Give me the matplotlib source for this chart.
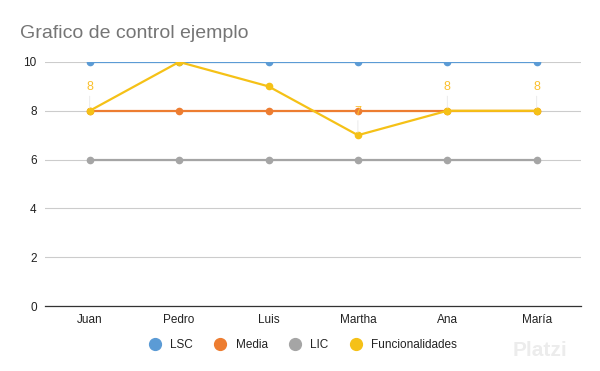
import matplotlib.pyplot as plt

plt.rcParams["font.family"] = ["Liberation Sans", "DejaVu Sans"]

nombres = ["Juan", "Pedro", "Luis", "Martha", "Ana", "María"]
lsc = [10, 10, 10, 10, 10, 10]
media = [8, 8, 8, 8, 8, 8]
lic = [6, 6, 6, 6, 6, 6]
funcionalidades = [8, 10, 9, 7, 8, 8]
etiquetados = [0, 3, 4, 5]  # puntos con etiqueta de dato

COLORS = {
    "LSC": "#5b9bd5",
    "Media": "#ed7d31",
    "LIC": "#a5a5a5",
    "Funcionalidades": "#f5c117",
}


def main():
    fig = plt.figure(figsize=(6, 3.71), dpi=100)
    ax = fig.add_axes([0.075, 0.175, 0.894, 0.658])

    x = list(range(len(nombres)))
    series = [
        ("LSC", lsc, 2),
        ("Media", media, 4),
        ("LIC", lic, 2),
        ("Funcionalidades", funcionalidades, 5),
    ]
    for name, vals, z in series:
        ax.plot(x, vals, "-o", color=COLORS[name], lw=1.6, ms=4.5,
                label=name, zorder=z)

    for i in etiquetados:
        v = funcionalidades[i]
        t = ax.annotate(str(v), (i, v), xytext=(0, 12.5),
                        textcoords="offset points", ha="center", va="bottom",
                        color="#fbc02d", fontsize=9,
                        arrowprops=dict(arrowstyle="-", color="#e6e6e6",
                                        lw=0.6, shrinkA=0, shrinkB=2))
        t.set_zorder(6)

    ax.set_xlim(-0.5, len(nombres) - 0.5)
    ax.set_ylim(0, 10)
    ax.set_yticks([0, 2, 4, 6, 8, 10])
    ax.set_xticks(x)
    ax.set_xticklabels(nombres)
    ax.tick_params(length=0, labelsize=8.5, colors="#222222", pad=6)
    ax.yaxis.grid(True, color="#cccccc", lw=0.8)
    ax.set_axisbelow(True)
    for s in ["top", "right", "left"]:
        ax.spines[s].set_visible(False)
    ax.spines["bottom"].set_color("#333333")
    ax.spines["bottom"].set_linewidth(0.9)

    fig.text(0.033, 0.91, "Grafico de control ejemplo", fontsize=14,
             color="#757575", ha="left", va="center")

    handles = [plt.Line2D([], [], ls="", marker="o", ms=8.5, color=COLORS[n])
               for n, _, _ in series]
    fig.legend(handles, [n for n, _, _ in series], loc="center",
               bbox_to_anchor=(0.5, 0.07), ncol=4, frameon=False,
               fontsize=8.5, handletextpad=0.3, columnspacing=1.3,
               labelcolor="#222222")

    fig.text(0.9, 0.055, "Platzi", fontsize=15, color="#ececec",
             ha="center", va="center", fontweight="bold")

    fig.savefig("out.png", dpi=100)


if __name__ == "__main__":
    main()
